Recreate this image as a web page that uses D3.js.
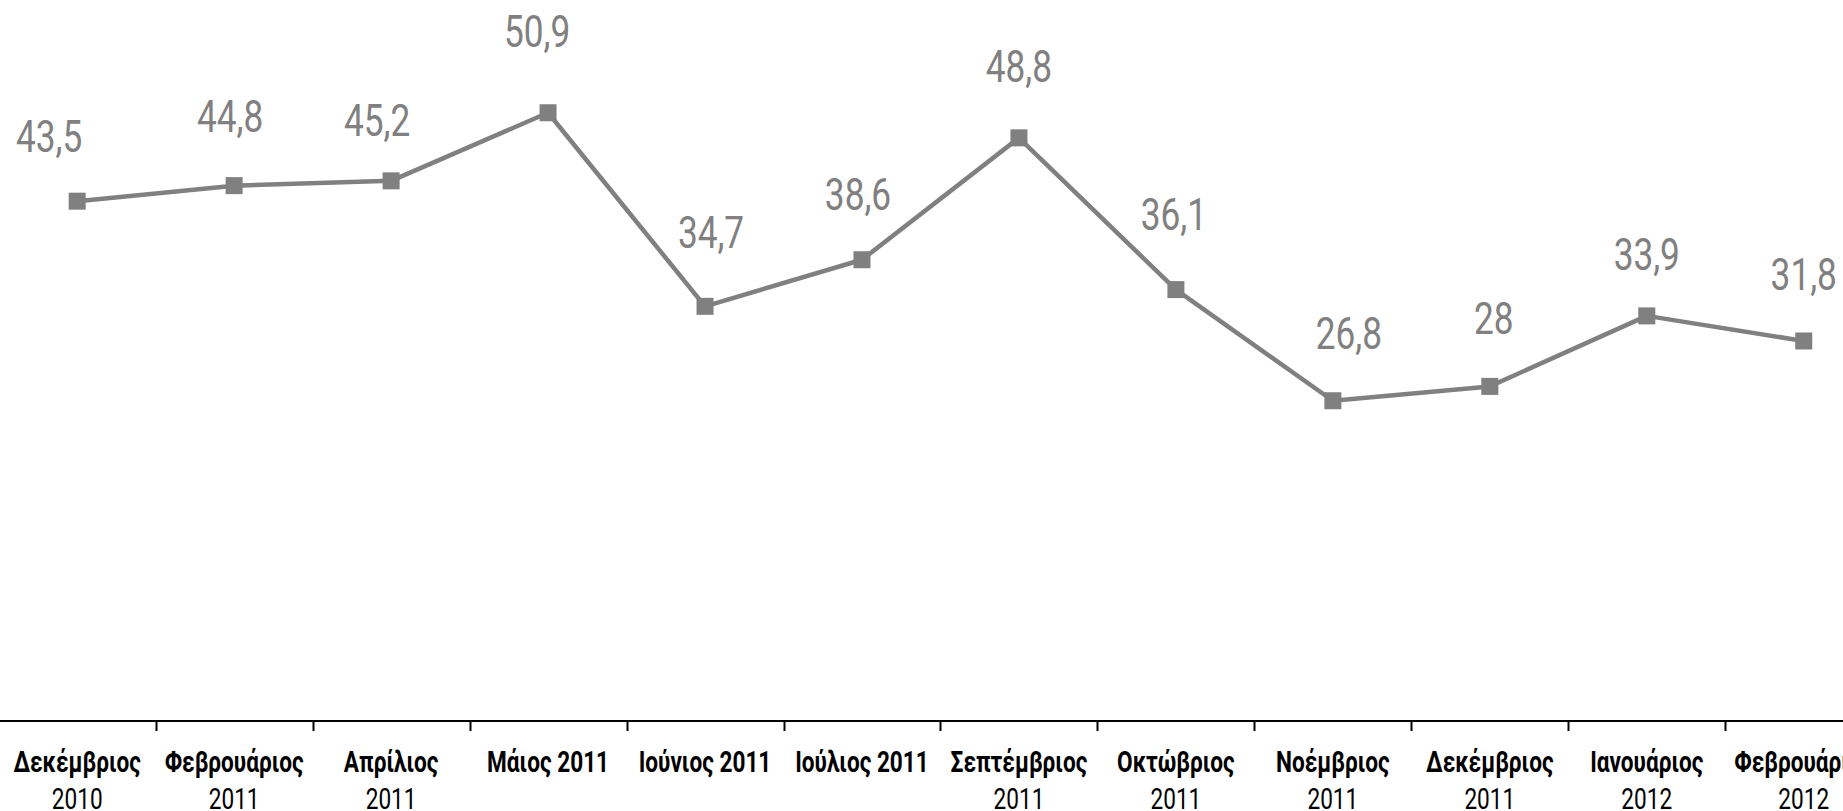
<!DOCTYPE html>
<html>
<head>
<meta charset="utf-8">
<script src="https://cdn.jsdelivr.net/npm/d3@7"></script>
<style>
  html, body { margin: 0; padding: 0; background: #fff; overflow: hidden; }
  svg { display: block; }
</style>
</head>
<body>
<svg width="1843" height="811"></svg>
<script>
// categories (months) and values
const months = [
  "Δεκέμβριος 2010", "Φεβρουάριος 2011", "Απρίλιος 2011", "Μάιος 2011",
  "Ιούνιος 2011", "Ιούλιος 2011", "Σεπτέμβριος 2011", "Οκτώβριος 2011",
  "Νοέμβριος 2011", "Δεκέμβριος 2011", "Ιανουάριος 2012", "Φεβρουάριος 2012"
];
const values = [43.5, 44.8, 45.2, 50.9, 34.7, 38.6, 48.8, 36.1, 26.8, 28, 33.9, 31.8];

// label nudges (dx, dy of baseline from the point)
const labelDx = [-28, -4, -14, -11, 6, -4, 0, -2, 16, 4, 0, 0];
const labelDy = [-49, -54, -45, -66, -58, -50, -56, -60, -52, -52, -46, -51];

const svg = d3.select("svg");
const W = 1843;
const grey = "#808080";

const x = d3.scaleBand()
  .domain(months)
  .range([-1.3, -1.3 + 12 * 156.96])
  .padding(0);

const y = d3.scaleLinear()
  .domain([0, 60])
  .range([721, 4]);

const fmt = v => String(v).replace(".", ",");

// axis line
svg.append("line")
  .attr("x1", 0).attr("x2", W)
  .attr("y1", y(0)).attr("y2", y(0))
  .attr("stroke", "#000")
  .attr("stroke-width", 2);

// ticks between categories
svg.selectAll(".tick")
  .data(months.slice(1))
  .enter()
  .append("line")
  .attr("class", "tick")
  .attr("x1", d => Math.round(x(d)) + 0.5)
  .attr("x2", d => Math.round(x(d)) + 0.5)
  .attr("y1", y(0))
  .attr("y2", y(0) + 10)
  .attr("stroke", "#000")
  .attr("stroke-width", 2);

// category labels, wrapped when too wide
const sxCat = 0.78;
const catG = svg.append("g");
months.forEach(m => {
  const cx = x(m) + x.bandwidth() / 2;
  const t = catG.append("text")
    .attr("transform", `translate(${cx},772) scale(${sxCat},1)`)
    .attr("text-anchor", "middle")
    .attr("font-family", "Roboto, 'Noto Sans', sans-serif")
    .attr("font-weight", "bold")
    .attr("font-size", 29)
    .attr("fill", "#000")
    .text(m);
  if (t.node().getComputedTextLength() * sxCat > 150) {
    const i = m.lastIndexOf(" ");
    t.text(null);
    t.append("tspan").attr("x", 0).attr("y", 0).text(m.slice(0, i));
    t.append("tspan").attr("x", 0).attr("y", 37).attr("font-weight", "normal").text(m.slice(i + 1));
  }
});

// line
const line = d3.line()
  .x((d, i) => x(months[i]) + x.bandwidth() / 2)
  .y(d => y(d));

svg.append("path")
  .datum(values)
  .attr("d", line)
  .attr("fill", "none")
  .attr("stroke", grey)
  .attr("stroke-width", 4.5)
  .attr("stroke-linejoin", "round");

// square markers
const ms = 17;
svg.selectAll(".pt")
  .data(values)
  .enter()
  .append("rect")
  .attr("class", "pt")
  .attr("x", (d, i) => x(months[i]) + x.bandwidth() / 2 - ms / 2)
  .attr("y", d => y(d) - ms / 2)
  .attr("width", ms)
  .attr("height", ms)
  .attr("fill", grey);

// value labels
svg.selectAll(".lbl")
  .data(values)
  .enter()
  .append("text")
  .attr("class", "lbl")
  .attr("transform", (d, i) =>
    `translate(${x(months[i]) + x.bandwidth() / 2 + labelDx[i]},${y(d) + labelDy[i]}) scale(0.8,1)`)
  .attr("text-anchor", "middle")
  .attr("font-family", "Roboto, 'Noto Sans', sans-serif")
  .attr("font-size", 44)
  .attr("fill", grey)
  .text(d => fmt(d));
</script>
</body>
</html>
